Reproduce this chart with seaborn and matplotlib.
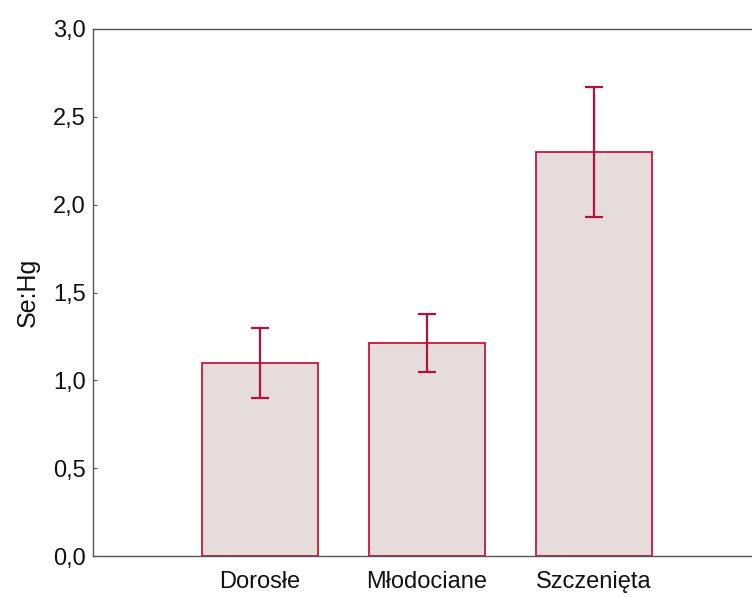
import matplotlib
matplotlib.use("Agg")
import matplotlib.pyplot as plt
import seaborn as sns
import numpy as np
import pandas as pd

categories = ["Dorosłe", "Młodociane", "Szczenięta"]
means = [1.10, 1.21, 2.30]
err_low = [0.90, 1.05, 1.93]
err_high = [1.30, 1.38, 2.67]
yticks = [0.0, 0.5, 1.0, 1.5, 2.0, 2.5, 3.0]
ytick_labels = ["0,0", "0,5", "1,0", "1,5", "2,0", "2,5", "3,0"]

sns.set_style("white")
plt.rcParams['font.family'] = ['Liberation Sans', 'DejaVu Sans']

fig = plt.figure(figsize=(7.52, 5.97), dpi=100)
W, H = 752, 597
left, right, top, bottom = 93, 761, 29, 556
ax = fig.add_axes([left / W, 1 - bottom / H, (right - left) / W, (bottom - top) / H])

df = pd.DataFrame({"grupa": categories, "val": means})
sns.barplot(data=df, x="grupa", y="val", ax=ax, errorbar=None, width=0.70,
            color="#e6dcdc", edgecolor="#c8163a", linewidth=1.3, saturation=1)

x = np.arange(len(categories))
m = np.array(means)
yerr = np.vstack([m - np.array(err_low), np.array(err_high) - m])
ax.errorbar(x, m, yerr=yerr, fmt="none", ecolor="#b5123a", elinewidth=1.6,
            capsize=6.5, capthick=1.6, zorder=5)

ax.set_xlim(-1, 3)
ax.set_ylim(0, 3.0)
ax.set_yticks(yticks)
ax.set_yticklabels(ytick_labels, fontsize=17, color="#111111")
ax.set_xticks(x)
ax.set_xticklabels(categories, fontsize=17, color="#111111")
ax.set_xlabel("")
ax.set_ylabel("Se:Hg", fontsize=18, labelpad=10, color="#111111")
ax.tick_params(axis="both", direction="in", length=3, width=0.8, color="#555555",
               left=True, bottom=True)
ax.tick_params(axis="x", pad=11)
ax.tick_params(axis="y", pad=5)
for s in ax.spines.values():
    s.set_color("#555555")
    s.set_linewidth(1.0)

fig.savefig("out.png", dpi=100)
